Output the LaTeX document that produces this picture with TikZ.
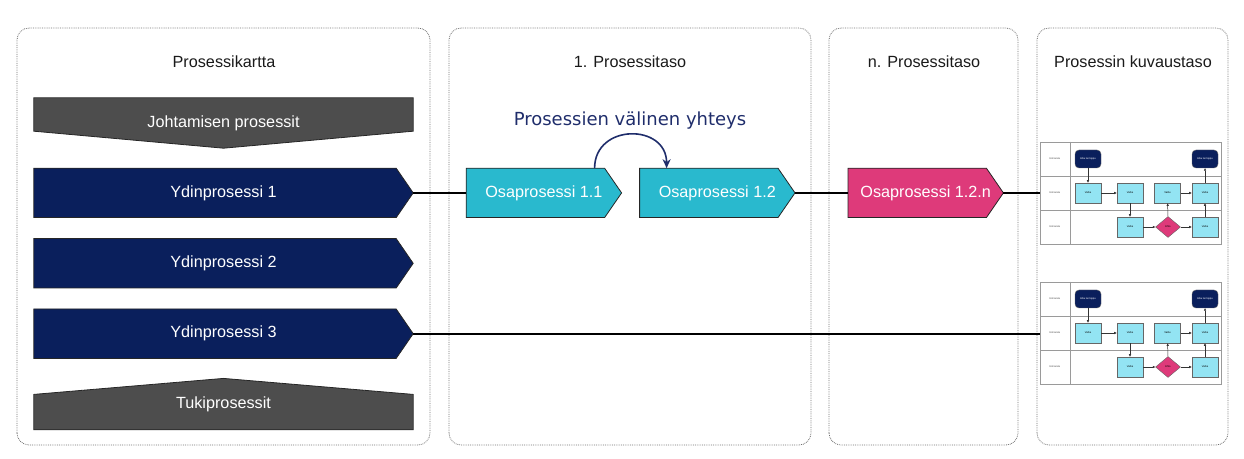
\documentclass[tikz,border=0pt]{standalone}
\usepackage{fontspec}
\setmainfont{Liberation Sans}
\newfontfamily\dejavu{DejaVu Sans}
\usepackage{tikz}
\usetikzlibrary{
  shapes.geometric,
  arrows.meta,
  positioning,
  calc,
  backgrounds
}
\definecolor{navy}{HTML}{0A1F5C}
\definecolor{darkgrey}{HTML}{4D4D4D}
\definecolor{tealc}{HTML}{29B9CE}
\definecolor{magenta}{HTML}{DE3A7A}
\definecolor{lightcyan}{HTML}{93E4F3}
\definecolor{linknavy}{HTML}{1F2D6B}
\definecolor{border}{HTML}{707070}
\definecolor{lanegrey}{HTML}{9A9A9A}
\definecolor{textprimary}{HTML}{1A1A1A}
\tikzset{
  base/.style={
    text=white,
    font=\fontsize{16.2}{19}\selectfont,
    align=center,
    inner sep=0pt,
  },
  panel/.style={
    draw=border,
    densely dotted,
    line width=0.8pt,
    rounded corners=12pt,
  },
  ptitle/.style={
    font=\fontsize{16.2}{19}\selectfont,
    text=textprimary,
  },
  % text box of a process arrow; the outline is drawn behind it
  proc/.style={
    base,
    minimum width=379pt,
    minimum height=49pt,
  },
  osaproc/.style={
    base,
    minimum width=155pt,
    minimum height=49pt,
  },
  outline/.style={
    draw=black!85,
    line width=0.8pt,
    line join=miter,
  },
  flowline/.style={
    line width=2pt,
    draw=black,
  },
  link/.style={
    -{Stealth[length=9pt, width=8pt]},
    line width=1.6pt,
    draw=linknavy,
  },
  % --- mini swimlane diagram ---
  lane/.style={
    draw=lanegrey,
    line width=0.6pt,
    minimum width=181pt,
    minimum height=34pt,
    inner sep=0pt,
  },
  lanetxt/.style={
    font=\fontsize{2.6}{3}\selectfont,
    text=black!70,
  },
  term/.style={
    fill=navy,
    draw=black!60,
    rounded corners=4pt,
    minimum width=26pt,
    minimum height=18pt,
    text=white,
    font=\fontsize{2.6}{3}\selectfont,
    inner sep=0pt,
  },
  vaihe/.style={
    fill=lightcyan,
    draw=black!60,
    line width=0.6pt,
    minimum width=26pt,
    minimum height=20pt,
    font=\fontsize{2.6}{3}\selectfont,
    inner sep=0pt,
  },
  ehto/.style={
    diamond,
    fill=magenta,
    draw=black!60,
    line width=0.4pt,
    minimum width=25pt,
    minimum height=21pt,
    font=\fontsize{2.6}{3}\selectfont,
    inner sep=0pt,
  },
  minilink/.style={
    -{Triangle[length=2.5pt, width=2.2pt]},
    line width=0.5pt,
    draw=black!80,
  },
}

\begin{document}
\begin{tikzpicture}[x=1pt, y=1pt]

\useasboundingbox (0,0) rectangle (1244,458);

% === Panels ===

\draw[panel] (17,13) rectangle (430,430);
\draw[panel] (449,13) rectangle (811,430);
\draw[panel] (829,13) rectangle (1018,430);
\draw[panel] (1037,13) rectangle (1228,430);

\node[ptitle] (t1) at (224,396) {Prosessikartta};
\node[ptitle] (t2) at (630,396) {1. Prosessitaso};
\node[ptitle] (t3) at (924,396) {n. Prosessitaso};
\node[ptitle] (t4) at (1133,396) {Prosessin kuvaustaso};

% === Process map ===

\node[proc, minimum height=50pt]
  (johto) at (223.5,335) {Johtamisen prosessit};

\node[proc, below=20pt of johto]
  (yd1) {Ydinprosessi 1};

\node[proc, below=21pt of yd1]
  (yd2) {Ydinprosessi 2};

\node[proc, below=21pt of yd2]
  (yd3) {Ydinprosessi 3};

\node[proc, minimum height=51pt, below=20pt of yd3]
  (tuki) {Tukiprosessit};

% === 1. level ===

\node[osaproc, right=53pt of yd1]
  (osa11) {Osaprosessi 1.1};

\node[osaproc, right=18pt of osa11]
  (osa12) {Osaprosessi 1.2};

\draw[link] ([xshift=-27pt]osa11.north east)
  to[out=90, in=90, looseness=1.6] ([xshift=27pt]osa12.north west);

\node[font=\dejavu\fontsize{18}{21}\selectfont, text=linknavy]
  (yhteys) at (630,337) {Prosessien välinen yhteys};

% === n. level ===

\node[osaproc, right=53pt of osa12]
  (osa1n) {Osaprosessi 1.2.n};

% === Arrow outlines behind the texts ===
\begin{scope}[on background layer]
  \foreach \n/\c in {yd1/navy, yd2/navy, yd3/navy,
                     osa11/tealc, osa12/tealc, osa1n/magenta}
    \filldraw[outline, fill=\c]
      (\n.north west) -- ([xshift=-17pt]\n.north east) -- (\n.east)
      -- ([xshift=-17pt]\n.south east) -- (\n.south west) -- cycle;
  \filldraw[outline, fill=darkgrey]
    (johto.north west) -- (johto.north east) -- ([yshift=17pt]johto.south east)
    -- (johto.south) -- ([yshift=17pt]johto.south west) -- cycle;
  \filldraw[outline, fill=darkgrey]
    (tuki.south west) -- (tuki.south east) -- ([yshift=-16pt]tuki.north east)
    -- (tuki.north) -- ([yshift=-16pt]tuki.north west) -- cycle;
\end{scope}

% === Description level: two swimlane diagrams ===

\foreach \p/\dy in {a/0, b/-140}{
  \begin{scope}[yshift=\dy]
    \node[lane] (\p-l1) at (1130.5,299) {};
    \node[lane] (\p-l2) at (1130.5,265) {};
    \node[lane] (\p-l3) at (1130.5,231) {};
    \draw[lanegrey, line width=0.6pt]
      ([xshift=31pt]\p-l1.north west) -- ([xshift=31pt]\p-l3.south west);
    \node[lanetxt] at ([xshift=15pt]\p-l1.west) {Uimarata};
    \node[lanetxt] at ([xshift=15pt]\p-l2.west) {Uimarata};
    \node[lanetxt] at ([xshift=15pt]\p-l3.west) {Uimarata};

    \node[term] (\p-start) at (1088,299) {Alku tai loppu};
    \node[term] (\p-end) at (1205,299) {Alku tai loppu};
    \node[vaihe] (\p-v1) at (1088,265) {Vaihe};
    \node[vaihe] (\p-v2) at (1130,265) {Vaihe};
    \node[vaihe] (\p-v3) at (1167.5,265) {Vaihe};
    \node[vaihe] (\p-v4) at (1205,265) {Vaihe};
    \node[vaihe] (\p-v5) at (1130,231) {Vaihe};
    \node[ehto] (\p-ehto) at (1168,231) {Ehto};
    \node[vaihe] (\p-v6) at (1205,231) {Vaihe};

    \draw[minilink] (\p-start) -- (\p-v1);
    \draw[minilink] (\p-v1) -- (\p-v2);
    \draw[minilink] (\p-v2) -- (\p-v5);
    \draw[minilink] (\p-v5) -- (\p-ehto);
    \draw[minilink] (\p-ehto) -- (\p-v3);
    \draw[minilink] (\p-ehto) -- (\p-v6);
    \draw[minilink] (\p-v3) -- (\p-v4);
    \draw[minilink] (\p-v6) -- (\p-v4);
    \draw[minilink] (\p-v4) -- (\p-end);
  \end{scope}
}

% === Connections ===

\draw[flowline] (yd1.east) -- (osa11.west);
\draw[flowline] (osa12.east) -- (osa1n.west);
\draw[flowline] (osa1n.east) -- (osa1n.east -| a-l2.west);
\draw[flowline] (yd3.east) -- (yd3.east -| b-l2.west);

\end{tikzpicture}
\end{document}
